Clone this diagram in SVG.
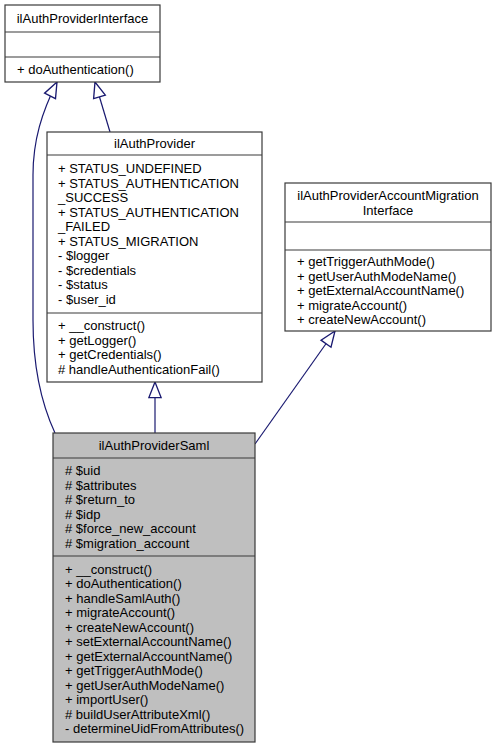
<svg xmlns="http://www.w3.org/2000/svg" width="495" height="749" viewBox="0 0 495 749">
<style>
.box{fill:#ffffff;stroke:#3a3a3a;stroke-width:1.2}
.sel{fill:#bfbfbf;stroke:#3a3a3a;stroke-width:1.2}
.div{stroke:#3a3a3a;stroke-width:1.2}
text{font-family:"Liberation Sans",Arial,Helvetica,sans-serif;font-size:13px;fill:#000}
.c{text-anchor:middle}
.edge{fill:none;stroke:#191970;stroke-width:1.2}
</style>
<defs>
<marker id="inh" markerUnits="userSpaceOnUse" markerWidth="20" markerHeight="20" viewBox="-16 -8 18 16" refX="0" refY="0" orient="auto">
<path d="M0,0 L-14,-5.5 L-14,5.5 Z" fill="#ffffff" stroke="#191970" stroke-width="1.2"/>
</marker>
</defs>
<g id="connectors">
<path class="edge" d="M55,433 C42,405 33,370 33,320 L33,175 C33,140 42,112 57,82" marker-end="url(#inh)"/>
<path class="edge" d="M110,132 L95,82" marker-end="url(#inh)"/>
<path class="edge" d="M155,433 L155,382" marker-end="url(#inh)"/>
<path class="edge" d="M255,444 L335,331" marker-end="url(#inh)"/>
</g>
<g id="ilAuthProviderInterface">
<rect class="box" x="5" y="5" width="155" height="77"/>
<line class="div" x1="5" y1="32" x2="160" y2="32"/>
<line class="div" x1="5" y1="57" x2="160" y2="57"/>
<text class="c" x="82.5" y="23">ilAuthProviderInterface</text>
<text x="17" y="74">+ doAuthentication()</text>
</g>
<g id="ilAuthProvider">
<rect class="box" x="47" y="132" width="215" height="250"/>
<line class="div" x1="47" y1="155" x2="262" y2="155"/>
<line class="div" x1="47" y1="313" x2="262" y2="313"/>
<text class="c" x="154.5" y="148">ilAuthProvider</text>
<text x="58" y="173">+ STATUS_UNDEFINED</text>
<text x="58" y="187.5">+ STATUS_AUTHENTICATION</text>
<text x="58" y="202">_SUCCESS</text>
<text x="58" y="216.5">+ STATUS_AUTHENTICATION</text>
<text x="58" y="231">_FAILED</text>
<text x="58" y="245.5">+ STATUS_MIGRATION</text>
<text x="58" y="260">- $logger</text>
<text x="58" y="274.5">- $credentials</text>
<text x="58" y="289">- $status</text>
<text x="58" y="303.5">- $user_id</text>
<text x="58" y="330">+ __construct()</text>
<text x="58" y="344.5">+ getLogger()</text>
<text x="58" y="359">+ getCredentials()</text>
<text x="58" y="373.5"># handleAuthenticationFail()</text>
</g>
<g id="ilAuthProviderAccountMigrationInterface">
<rect class="box" x="285" y="183" width="206" height="148"/>
<line class="div" x1="285" y1="222" x2="491" y2="222"/>
<line class="div" x1="285" y1="250" x2="491" y2="250"/>
<text class="c" x="388" y="200">ilAuthProviderAccountMigration</text>
<text class="c" x="388" y="214.5">Interface</text>
<text x="297" y="266">+ getTriggerAuthMode()</text>
<text x="297" y="280.5">+ getUserAuthModeName()</text>
<text x="297" y="295">+ getExternalAccountName()</text>
<text x="297" y="309.5">+ migrateAccount()</text>
<text x="297" y="324">+ createNewAccount()</text>
</g>
<g id="ilAuthProviderSaml">
<rect class="sel" x="53" y="433" width="202" height="309"/>
<line class="div" x1="53" y1="458" x2="255" y2="458"/>
<line class="div" x1="53" y1="556" x2="255" y2="556"/>
<text class="c" x="154" y="450">ilAuthProviderSaml</text>
<text x="65" y="475"># $uid</text>
<text x="65" y="489.5"># $attributes</text>
<text x="65" y="504"># $return_to</text>
<text x="65" y="518.5"># $idp</text>
<text x="65" y="533"># $force_new_account</text>
<text x="65" y="547.5"># $migration_account</text>
<text x="65" y="573.5">+ __construct()</text>
<text x="65" y="588">+ doAuthentication()</text>
<text x="65" y="602.5">+ handleSamlAuth()</text>
<text x="65" y="617">+ migrateAccount()</text>
<text x="65" y="631.5">+ createNewAccount()</text>
<text x="65" y="646">+ setExternalAccountName()</text>
<text x="65" y="660.5">+ getExternalAccountName()</text>
<text x="65" y="675">+ getTriggerAuthMode()</text>
<text x="65" y="689.5">+ getUserAuthModeName()</text>
<text x="65" y="704">+ importUser()</text>
<text x="65" y="718.5"># buildUserAttributeXml()</text>
<text x="65" y="733">- determineUidFromAttributes()</text>
</g>
</svg>
